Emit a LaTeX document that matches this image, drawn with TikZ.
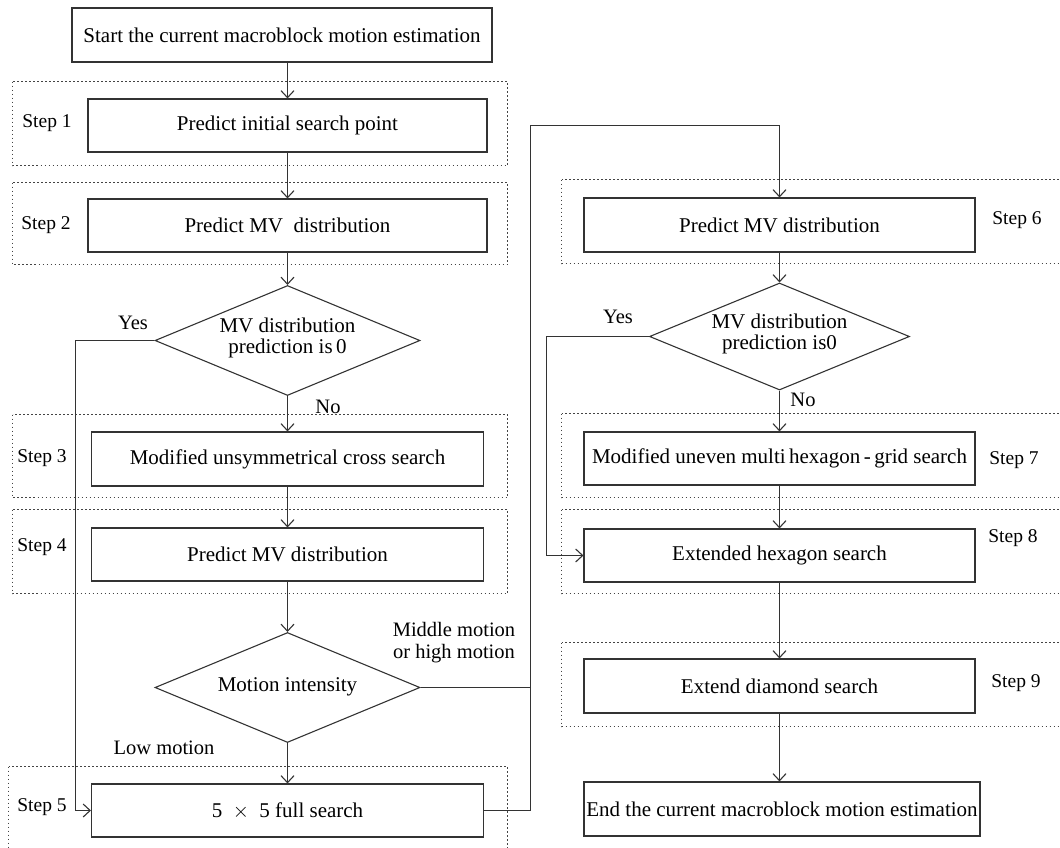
\documentclass[tikz,border=0pt]{standalone}
\usepackage{fontspec}
\setmainfont{Liberation Serif}
\usetikzlibrary{shapes.geometric,arrows.meta}
\definecolor{ln}{HTML}{333333}
\definecolor{dt}{HTML}{444444}
\tikzset{
  box/.style={draw=ln,line width=1.1pt,rectangle,inner sep=0pt,font=\fontsize{21}{25}\selectfont},
  diam/.style={draw=ln,line width=1.1pt,diamond,inner sep=0pt,minimum width=265pt,minimum height=110pt},
  dtext/.style={align=center,font=\fontsize{21}{24}\selectfont},
  lbl/.style={font=\fontsize{20.5}{24}\selectfont,inner sep=0pt},
  steplbl/.style={font=\fontsize{19.5}{23}\selectfont,inner sep=0pt},
  grp/.style={draw=dt,line width=0.9pt,dash pattern=on 1.6pt off 2.4pt},
  arr/.style={draw=ln,line width=1.1pt,-{Straight Barb[length=7pt,width=13pt,line width=1.1pt]}},
  con/.style={draw=ln,line width=1.1pt},
}
\begin{document}
\begin{tikzpicture}[x=1pt,y=-1pt]
\useasboundingbox (0,0) rectangle (1060,847);
\clip (0,0) rectangle (1060,847);
% dotted step groups
\draw[grp] (12.5,81.5) rectangle (507.5,165.5);
\draw[grp] (12.5,182.5) rectangle (507.5,264.5);
\draw[grp] (12.5,414.5) rectangle (507.5,497.5);
\draw[grp] (12.5,509.5) rectangle (507.5,593.5);
\draw[grp] (8.5,766.5) rectangle (507.5,880);
\draw[grp] (561.5,179.5) rectangle (1080,263.5);
\draw[grp] (561.5,413.5) rectangle (1080,497.5);
\draw[grp] (561.5,509.5) rectangle (1080,593.5);
\draw[grp] (561.5,642.5) rectangle (1080,726.5);
% left column
\node[box,minimum width=420pt,minimum height=54pt] (start) at (282,35) {Start the current macroblock motion estimation};
\node[box,minimum width=399pt,minimum height=53pt] (s1) at (287.5,125.5) {Predict initial search point};
\node[box,minimum width=399pt,minimum height=53pt] (s2) at (287.5,225.5) {Predict MV\ \ distribution};
\node[diam] (d1) at (287.5,340.5) {};
\node[dtext] (d1t) at (287.5,338) {MV distribution\\[-3pt]prediction is\,0};
\node[box,minimum width=392pt,minimum height=54pt] (s3) at (287.5,459) {Modified unsymmetrical cross search};
\node[box,minimum width=392pt,minimum height=53pt] (s4) at (287.5,554.5) {Predict MV distribution};
\node[diam] (d2) at (287.5,687.5) {};
\node[dtext] (d2t) at (287.5,687) {Motion intensity};
\node[box,minimum width=392pt,minimum height=53pt] (s5) at (287.5,810.5) {5\ \ $\times$\ \ 5 full search};
% right column
\node[box,minimum width=391pt,minimum height=54pt] (s6) at (779.5,225) {Predict MV distribution};
\node[diam,minimum width=260pt,minimum height=107pt] (d3) at (779.5,336.5) {};
\node[dtext] (d3t) at (779.5,334) {MV distribution\\[-3pt]prediction is0};
\node[box,minimum width=391pt,minimum height=53pt] (s7) at (779.5,458.5) {Modified uneven multi\,hexagon\,-\,grid search};
\node[box,minimum width=391pt,minimum height=53pt] (s8) at (779.5,555.5) {Extended hexagon search};
\node[box,minimum width=391pt,minimum height=54pt] (s9) at (779.5,686) {Extend diamond search};
\node[box,minimum width=396pt,minimum height=54pt] (end) at (782,809) {End the current macroblock motion estimation};
% step labels
\node[steplbl] (l1) at (47,123) {Step 1};
\node[steplbl] (l2) at (46,225) {Step 2};
\node[steplbl] (l3) at (42,458) {Step 3};
\node[steplbl] (l4) at (42,547) {Step 4};
\node[steplbl] (l5) at (42,807) {Step 5};
\node[steplbl] (l6) at (1017,220) {Step 6};
\node[steplbl] (l7) at (1014,460) {Step 7};
\node[steplbl] (l8) at (1013,538) {Step 8};
\node[steplbl] (l9) at (1016,683) {Step 9};
% branch labels
\node[lbl] (y1) at (133,323) {Yes};
\node[lbl] (n1) at (328,407) {No};
\node[lbl] (y2) at (618,317) {Yes};
\node[lbl] (n2) at (803,400) {No};
\node[lbl] (lm) at (164,748) {Low motion};
\node[lbl,align=center] (mm) at (454,643) {Middle motion\\[-2pt]or high motion};
% helper coordinates
\coordinate (yesL) at (75.5,500);
\coordinate (rtop) at (530.5,125.5);
\coordinate (yesR) at (546.5,450);
% connectors
\draw[arr] (start.south -| s1.north) -- (s1.north);
\draw[arr] (s1.south) -- (s2.north);
\draw[arr] (s2.south) -- (d1.north);
\draw[arr] (d1.south) -- (s3.north);
\draw[arr] (s3.south) -- (s4.north);
\draw[arr] (s4.south) -- (d2.north);
\draw[arr] (d2.south) -- (s5.north);
\draw[arr] (d1.west) -| (yesL) |- (s5.west);
\draw[con] (d2.east) -- (d2.east -| rtop);
\draw[arr] (s5.east) -| (rtop) -- (rtop -| s6.north) -- (s6.north);
\draw[arr] (s6.south) -- (d3.north);
\draw[arr] (d3.south) -- (s7.north);
\draw[arr] (s7.south) -- (s8.north);
\draw[arr] (s8.south) -- (s9.north);
\draw[arr] (s9.south) -- (end.north -| s9.south);
\draw[arr] (d3.west) -| (yesR) |- (s8.west);
\end{tikzpicture}
\end{document}
